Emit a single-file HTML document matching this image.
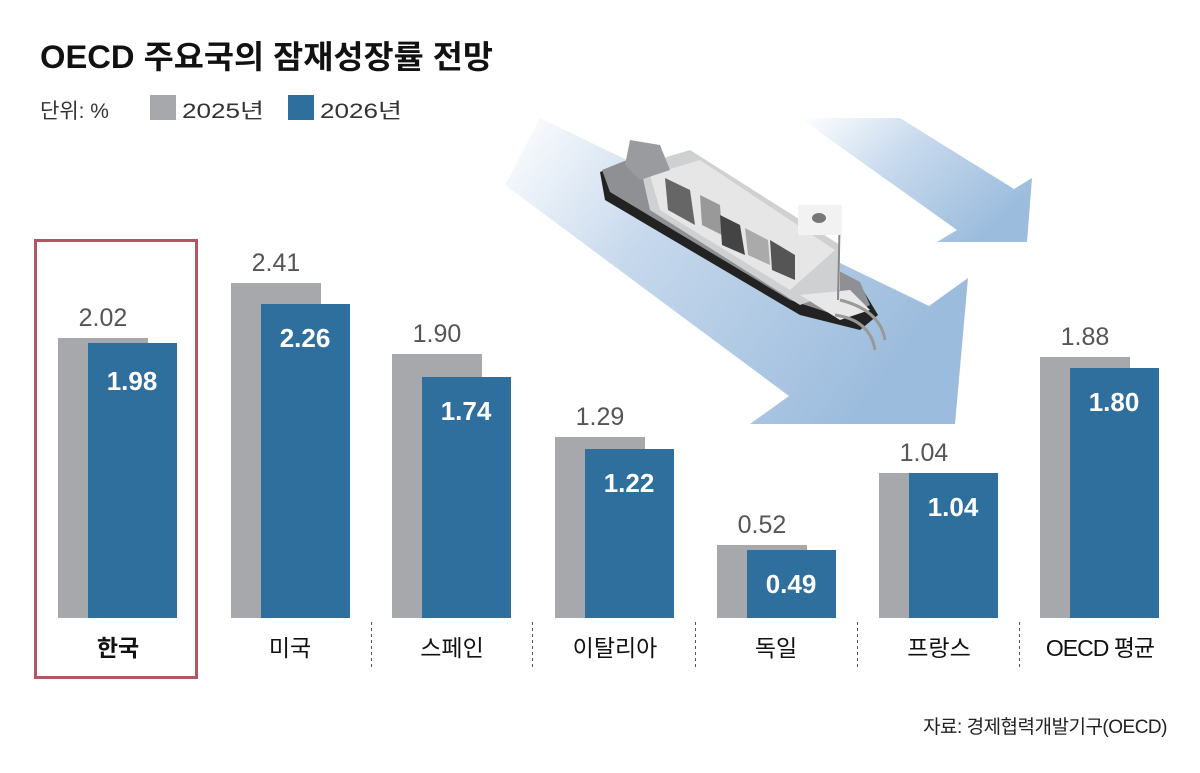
<!DOCTYPE html>
<html><head><meta charset="utf-8"><style>
html,body{margin:0;padding:0;background:#fff}
svg{display:block}
text{font-family:"Liberation Sans","Noto Sans CJK KR","NanumGothic",sans-serif}
</style></head><body>
<svg width="1200" height="773" viewBox="0 0 1200 773" xmlns="http://www.w3.org/2000/svg">
<defs>
<linearGradient id="g1" x1="0" y1="0" x2="1" y2="0.5">
<stop offset="0" stop-color="#fff"/><stop offset="0.4" stop-color="#c6d8ec"/><stop offset="1" stop-color="#9cbcdd"/></linearGradient>
<linearGradient id="g2" x1="0" y1="0" x2="1" y2="0.6">
<stop offset="0" stop-color="#fff"/><stop offset="0.45" stop-color="#c8daed"/><stop offset="1" stop-color="#9cbcdd"/></linearGradient>
</defs>
<rect width="1200" height="773" fill="#fff"/>
<text x="40" y="68" font-size="32" font-weight="bold" fill="#111" textLength="453" lengthAdjust="spacingAndGlyphs">OECD 주요국의 잠재성장률 전망</text>
<text x="40" y="118" font-size="21" fill="#333">단위: %</text>
<rect x="150" y="95" width="26" height="25" fill="#a7a8ab"/>
<text x="182" y="118" font-size="21" fill="#333" textLength="82" lengthAdjust="spacingAndGlyphs">2025년</text>
<rect x="288" y="95" width="26" height="25" fill="#2f6f9e"/>
<text x="320" y="118" font-size="21" fill="#333" textLength="82" lengthAdjust="spacingAndGlyphs">2026년</text>

<!-- arrows -->
<polygon points="800,118 900,118 1014,189 1032,178 1027,242 937,242 957,230" fill="url(#g2)"/>
<polygon points="540,118 929,306 968,278 955,424 750,424 789,396 505,185" fill="url(#g1)"/>
<!-- ship -->
<g>
<polygon points="600,172 625,163 860,285 878,315 860,330 800,315 605,200" fill="#222"/>
<polygon points="602,170 627,160 860,282 870,305 845,318 790,300 610,192" fill="#8e9094"/>
<polygon points="640,165 690,150 840,245 840,290 800,305 650,210" fill="#cfd0d2"/>
<polygon points="650,175 700,160 835,250 790,290 660,210" fill="#e6e6e6"/>
<polygon points="665,178 690,190 695,225 668,210" fill="#666"/>
<polygon points="700,195 720,205 722,235 702,225" fill="#999"/>
<polygon points="720,215 740,225 745,255 722,245" fill="#444"/>
<polygon points="745,228 768,240 770,265 748,255" fill="#aaa"/>
<polygon points="770,240 795,255 795,280 772,270" fill="#555"/>
<polygon points="630,140 660,145 670,170 640,180 625,165" fill="#9a9b9e"/>
<polygon points="800,295 850,290 870,310 840,320" fill="#e8e8e8"/>
<line x1="840" y1="205" x2="838" y2="300" stroke="#888" stroke-width="2"/>
<rect x="798" y="205" width="44" height="30" fill="#f2f2f2"/>
<ellipse cx="819" cy="218" rx="7" ry="5" fill="#777"/>
<path d="M840 300 q40 10 45 40 M835 315 q35 5 40 35" stroke="#999" stroke-width="3" fill="none"/>
</g>

<!-- Korea box -->
<rect x="35.5" y="240.5" width="161" height="437" fill="none" stroke="#b25664" stroke-width="3"/>

<!-- bars -->
<g fill="#a7a8ab">
<rect x="58" y="338" width="90" height="280"/>
<rect x="231" y="283" width="90" height="335"/>
<rect x="392" y="354" width="90" height="264"/>
<rect x="555" y="437" width="90" height="181"/>
<rect x="717" y="545" width="90" height="73"/>
<rect x="879" y="473" width="90" height="145"/>
<rect x="1040" y="357" width="90" height="261"/>
</g>
<g fill="#2f6f9e">
<rect x="88" y="343" width="89" height="275"/>
<rect x="261" y="304" width="89" height="314"/>
<rect x="422" y="377" width="89" height="241"/>
<rect x="585" y="449" width="89" height="169"/>
<rect x="747" y="550" width="89" height="68"/>
<rect x="909" y="473" width="89" height="145"/>
<rect x="1070" y="368" width="89" height="250"/>
</g>
<g font-size="25" fill="#555" text-anchor="middle">
<text x="103" y="326">2.02</text>
<text x="276" y="271">2.41</text>
<text x="437" y="342">1.90</text>
<text x="600" y="425">1.29</text>
<text x="762" y="533">0.52</text>
<text x="924" y="461">1.04</text>
<text x="1085" y="345">1.88</text>
</g>
<g font-size="26" font-weight="bold" fill="#fff" text-anchor="middle">
<text x="132" y="390">1.98</text>
<text x="305" y="347">2.26</text>
<text x="466" y="420">1.74</text>
<text x="629" y="492">1.22</text>
<text x="791" y="593">0.49</text>
<text x="953" y="516">1.04</text>
<text x="1114" y="411">1.80</text>
</g>
<g stroke="#555" stroke-width="1" stroke-dasharray="3,3">
<line x1="371.5" y1="622" x2="371.5" y2="668"/>
<line x1="532.5" y1="622" x2="532.5" y2="668"/>
<line x1="695.5" y1="622" x2="695.5" y2="668"/>
<line x1="857.5" y1="622" x2="857.5" y2="668"/>
<line x1="1019.5" y1="622" x2="1019.5" y2="668"/>
</g>
<g font-size="23" fill="#111" text-anchor="middle">
<text x="118" y="656" font-weight="bold">한국</text>
<text x="290" y="656">미국</text>
<text x="452" y="656">스페인</text>
<text x="615" y="656">이탈리아</text>
<text x="776" y="656">독일</text>
<text x="939" y="656">프랑스</text>
<text x="1100" y="656" letter-spacing="-1">OECD 평균</text>
</g>
<text x="1167" y="733" font-size="19" fill="#222" text-anchor="end" letter-spacing="-0.5">자료: 경제협력개발기구(OECD)</text>
</svg>
</body></html>
